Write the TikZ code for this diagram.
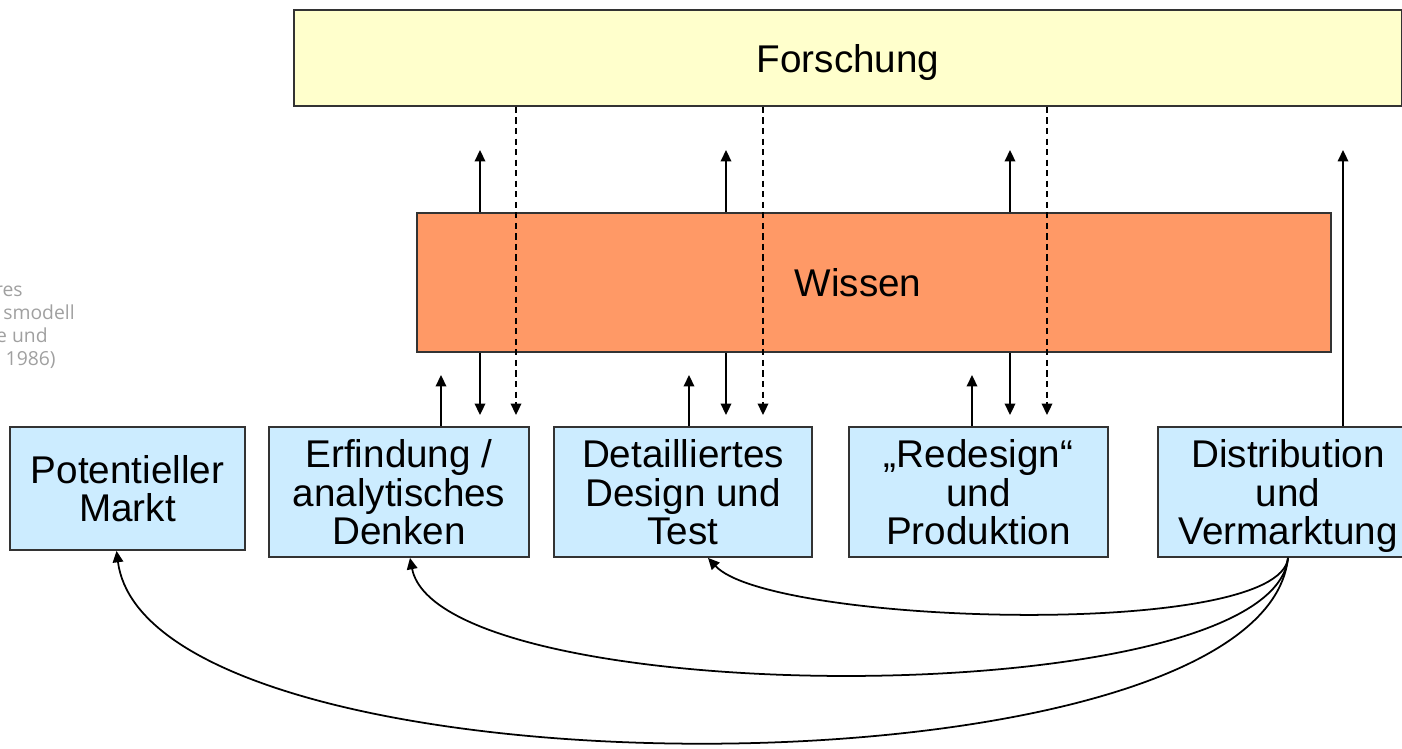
\documentclass[tikz,border=0pt]{standalone}
\usepackage{fontspec}
\setmainfont{Liberation Sans}
\newfontfamily\grayfont{Open Sans}
\usetikzlibrary{
    arrows.meta,
    calc,
    positioning
}
\definecolor{forschgelb}{HTML}{FFFFCC}
\definecolor{wissenorange}{HTML}{FF9966}
\definecolor{kastenblau}{HTML}{CCECFF}
\definecolor{randgrau}{HTML}{333333}
\definecolor{textgrau}{HTML}{A0A0A0}

\tikzset{
    kasten/.style={draw=randgrau, line width=1pt, inner sep=0pt, align=center, text depth=0pt,
        font=\fontsize{22}{21.8}\selectfont},
    pfeil/.style={line width=1pt, -{Triangle[width=6pt,length=6.5pt]}},
    gestrichelt/.style={pfeil, dash pattern=on 3.5pt off 2.5pt}
}

\begin{document}
\begin{tikzpicture}[x=0.02cm, y=-0.02cm]
                                \useasboundingbox (0, 0) rectangle (1402, 748);
                                \clip (0, 0) rectangle (1402, 748);

                                % Kaesten
                                \node[kasten, fill=forschgelb, minimum width=1108*0.02cm, minimum height=96*0.02cm] (forschung) at (848, 58) {Forschung};
                                \node[kasten, fill=wissenorange, minimum width=914*0.02cm, minimum height=139*0.02cm] (wissen) at (874, 282.5) {\hspace*{-0.64cm}Wissen};
                                \node[kasten, fill=kastenblau, minimum width=235*0.02cm, minimum height=123*0.02cm] (markt) at (127.5, 488.5) {Potentieller\\Markt};
                                \node[kasten, fill=kastenblau, minimum width=260*0.02cm, minimum height=130*0.02cm] (erf) at (399, 492) {Erfindung /\\analytisches\\Denken};
                                \node[kasten, fill=kastenblau, minimum width=258*0.02cm, minimum height=130*0.02cm] (det) at (683, 492) {Detailliertes\\Design und\\Test};
                                \node[kasten, fill=kastenblau, minimum width=259*0.02cm, minimum height=130*0.02cm] (red) at (978.5, 492) {„Redesign“\\und\\Produktion};
                                \node[kasten, fill=kastenblau, minimum width=260*0.02cm, minimum height=130*0.02cm] (dist) at (1288, 492) {Distribution\\und\\Vermarktung};

                                % angeschnittener Text links
                                \foreach \t/\x/\y [count=\i] in {res/23/296, smodell/75/319, e und/48/342, 1986)/56/365}
                                    \node[anchor=base east, inner sep=0pt, text=textgrau, font=\grayfont\fontsize{11}{13}\selectfont] (rand\i) at (\x, \y) {\t};

                                % Pfeile zwischen Wissen, Forschung und Kaesten
                                \foreach \b/\u/\d/\f in {erf/441/480/516, det/689/726/763, red/972/1010/1047} {
                                    \coordinate (hoch-\b) at (\u, 375);
                                    \coordinate (runter-\b) at (\d, 415);
                                    \coordinate (wissenhoch-\b) at (\d, 150);
                                    \coordinate (forsch-\b) at (\f, 415);
                                    \draw[pfeil] (\b.north -| hoch-\b) -- (hoch-\b);
                                    \draw[pfeil] (wissen.south -| runter-\b) -- (runter-\b);
                                    \draw[pfeil] (wissen.north -| wissenhoch-\b) -- (wissenhoch-\b);
                                    \draw[gestrichelt] (forschung.south -| forsch-\b) -- (forsch-\b);
                                }
                                \coordinate (disthoch) at (1343, 150);
                                \draw[pfeil] (dist.north -| disthoch) -- (disthoch);

                                % Rueckkopplungen
                                \draw[pfeil] (dist.south) .. controls (1280, 640) and (770, 625) .. ([xshift=25*0.02cm]det.south);
                                \draw[pfeil] (dist.south) .. controls (1272, 715) and (440, 712) .. ([xshift=11*0.02cm]erf.south);
                                \draw[pfeil] (dist.south) .. controls (1262, 805) and (150, 805) .. ([xshift=-11*0.02cm]markt.south);
                            \end{tikzpicture}
\end{document}
